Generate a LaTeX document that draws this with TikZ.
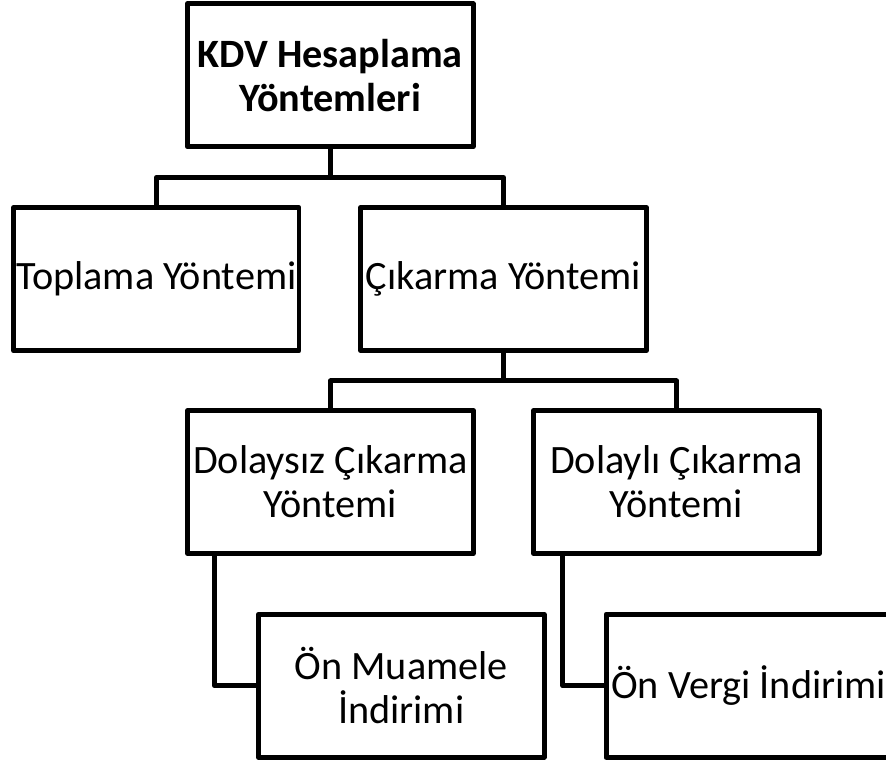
\documentclass[tikz,border=0pt]{standalone}
\usepackage{fontspec}
\setmainfont{Carlito}

\begin{document}
\begin{tikzpicture}[
  font=\fontsize{11.45pt}{12.4pt}\selectfont,
  method/.style={draw=black,line width=1.42pt,line join=round,minimum width=2.855cm,minimum height=1.43cm,inner sep=0pt,outer sep=0pt,align=center},
  link/.style={draw=black,line width=1.42pt,line join=round}
]
  \useasboundingbox (0,0) rectangle (8.86,-7.60);

  \node[method,font=\fontsize{11.45pt}{12.4pt}\selectfont\bfseries] (kdv) at (3.3025,-0.753) {KDV Hesaplama\\Yöntemleri};
  \node[method] (topl) at (1.5625,-2.7915) {Toplama Yöntemi};
  \node[method] (cik) at (5.035,-2.7915) {Çıkarma Yöntemi};
  \node[method] (dsz) at (3.305,-4.819) {Dolaysız Çıkarma\\Yöntemi};
  \node[method] (dli) at (6.765,-4.819) {Dolaylı Çıkarma\\Yöntemi};
  \node[method] (onm) at (4.0125,-6.8575) {Ön Muamele\\İndirimi};
  \node[method] (onv) at (7.4875,-6.8575) {Ön Vergi İndirimi};

  \coordinate (kdvbus) at (3.3025,-1.775);
  \coordinate (cikbus) at (5.035,-3.81);

  \draw[link] (kdv.south) -- (kdvbus) -| (topl.north);
  \draw[link] (kdvbus) -| (cik.north);
  \draw[link] (cik.south) -- (cikbus) -| (dsz.north);
  \draw[link] (cikbus) -| (dli.north);
  \draw[link] ([xshift=0.265cm]dsz.south west) |- (onm.west);
  \draw[link] ([xshift=0.29cm]dli.south west) |- (onv.west);
\end{tikzpicture}
\end{document}
